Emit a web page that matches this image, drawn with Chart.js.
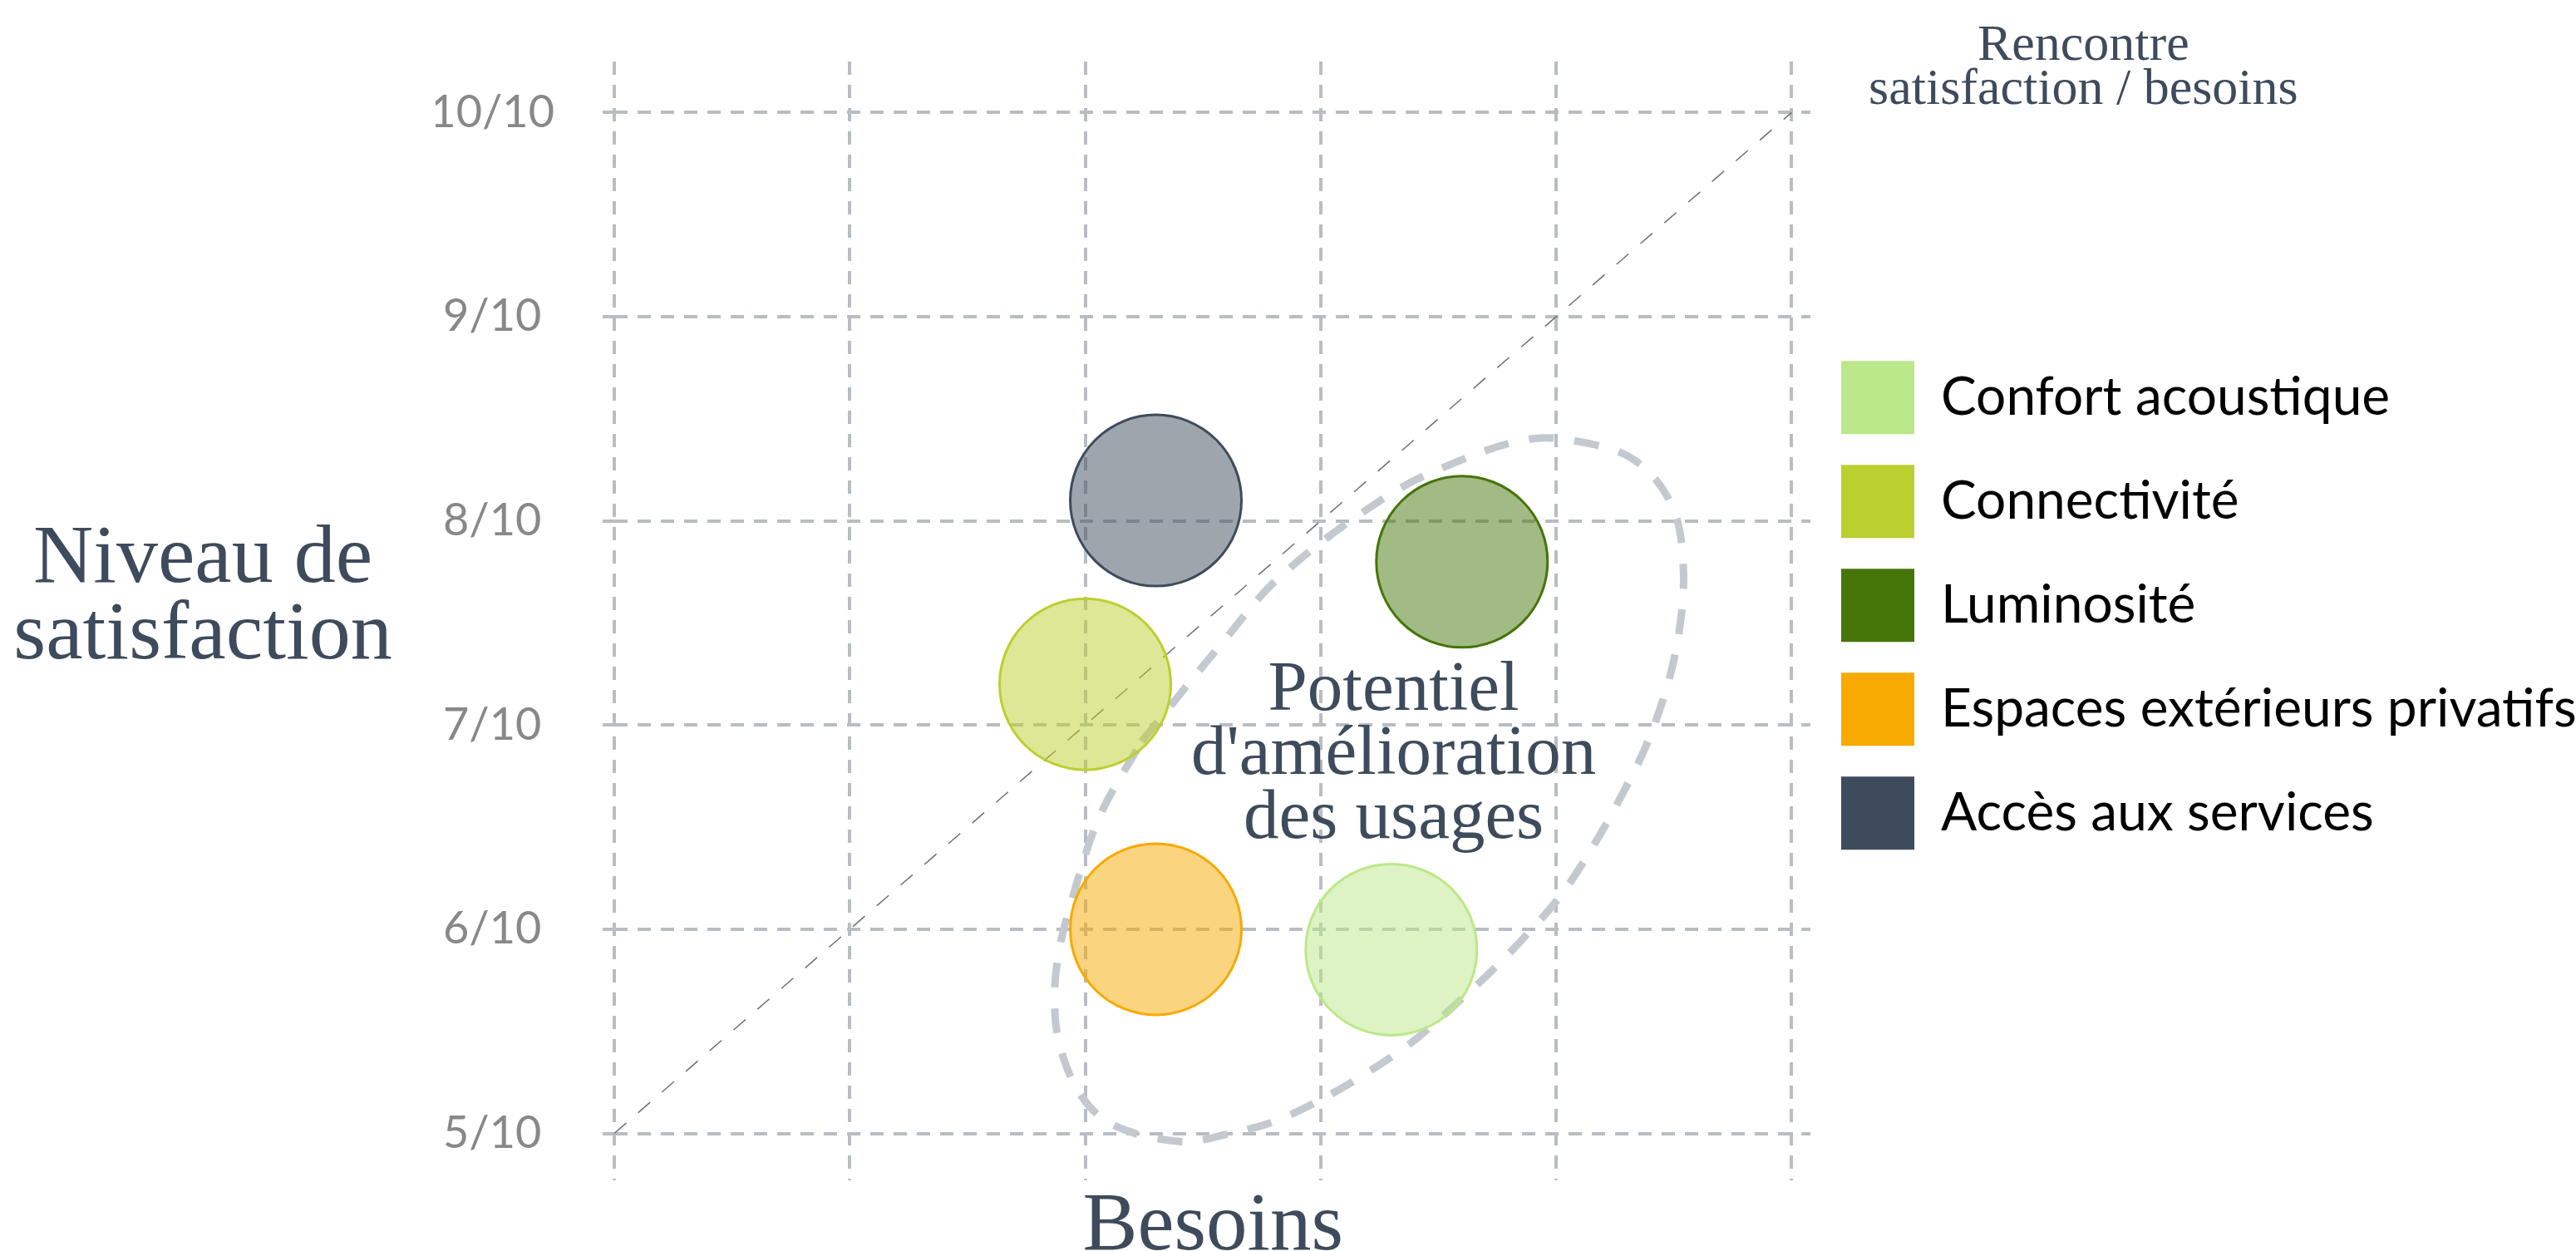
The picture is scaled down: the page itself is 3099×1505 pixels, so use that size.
<!DOCTYPE html>
<html>
<head>
<meta charset="utf-8">
<script src="https://cdn.jsdelivr.net/npm/chart.js@4"></script>
<style>
  html, body { margin: 0; padding: 0; background: #fff; }
  #wrap { width: 3099px; height: 1505px; }
</style>
</head>
<body>
<div id="wrap"><canvas id="chart-besoins"></canvas></div>
<script>
// données
const categories = ['Confort acoustique', 'Connectivité', 'Luminosité', 'Espaces extérieurs privatifs', 'Accès aux services'];
const besoins = [8.3, 7.0, 8.6, 7.3, 7.3];
const satisfaction = [5.9, 7.2, 7.8, 6.0, 8.1];
const colors = ['#bbe888', '#bbcf2e', '#457508', '#f7aa00', '#3d4b5c'];
const tickValues = [5, 6, 7, 8, 9, 10];
const yTickLabels = ['5/10', '6/10', '7/10', '8/10', '9/10', '10/10'];
const diagonal = [5, 10];
// contour de la zone "potentiel d'amélioration"
const zoneBesoins = [7.24, 7.58, 7.83, 8.28, 8.58, 8.88, 9.09, 9.33, 9.49, 9.54, 9.52, 9.45, 9.33, 9.06, 8.84, 8.60, 8.32, 7.87, 7.58, 7.40, 7.12, 6.98, 6.89, 6.87, 6.89, 6.94, 7.06, 7.24];
const zoneSatisfaction = [6.92, 7.40, 7.73, 8.12, 8.29, 8.40, 8.39, 8.30, 8.08, 7.78, 7.44, 7.11, 6.77, 6.23, 5.93, 5.66, 5.39, 5.09, 4.99, 4.96, 5.04, 5.19, 5.44, 5.68, 5.90, 6.13, 6.55, 6.92];

function alpha(hex, a) {
    const n = parseInt(hex.slice(1), 16);
    return 'rgba(' + (n >> 16) + ',' + ((n >> 8) & 255) + ',' + (n & 255) + ',' + a + ')';
}

const gridColor = '#b8bdc3';
const textColor = '#3d4b5c';
const serif = '"Liberation Serif", serif';
const plotRight = 2178;

const bubbleSets = categories.map((c, i) => ({
    type: 'bubble',
    label: c,
    data: [{x: besoins[i], y: satisfaction[i]}],
    backgroundColor: alpha(colors[i], 0.5),
    borderColor: colors[i],
    borderWidth: 3,
    radius: 103,
    order: 1
}));

const data = {
    datasets: bubbleSets.concat([{
        type: 'line',
        label: 'zone',
        data: zoneBesoins.map((v, i) => ({x: v, y: zoneSatisfaction[i]})),
        borderColor: '#c3c9cf',
        borderWidth: 9,
        borderDash: [30, 25],
        tension: 0.35,
        pointRadius: 0,
        fill: false,
        order: 3
    }, {
        type: 'line',
        label: 'rencontre',
        data: diagonal.map(v => ({x: v, y: v})),
        borderColor: '#6f6f6f',
        borderWidth: 1.5,
        borderDash: [19, 19],
        pointRadius: 0,
        fill: false,
        order: 2
    }])
};

const textes = {
    id: 'textes',
    afterDraw(chart) {
        const {ctx, chartArea, scales: {x, y}} = chart;
        ctx.save();
        ctx.fillStyle = textColor;
        ctx.textAlign = 'center';
        ctx.textBaseline = 'alphabetic';

        const midY = (chartArea.top + chartArea.bottom) / 2;
        ctx.font = '100px ' + serif;
        ctx.fillText('Niveau de', 244, midY - 47);
        ctx.fillText('satisfaction', 244, midY + 45);

        ctx.font = '99px ' + serif;
        ctx.fillText('Besoins', (chartArea.left + x.getPixelForValue(10)) / 2 + 12, chart.height - 2);

        const cx = x.getPixelForValue(10) + 351;
        const cy = y.getPixelForValue(10);
        ctx.font = '62px ' + serif;
        ctx.fillText('Rencontre', cx, cy - 63);
        ctx.fillText('satisfaction / besoins', cx, cy - 10);

        const px = x.getPixelForValue(8.31);
        const py = y.getPixelForValue(6.76);
        ctx.font = '85px ' + serif;
        ctx.fillText('Potentiel', px, py - 77);
        ctx.fillText("d'amélioration", px, py);
        ctx.fillText('des usages', px, py + 77);
        ctx.restore();
    }
};

Chart.defaults.font.family = 'Lato';

const config = {
    data: data,
    options: {
        responsive: true,
        maintainAspectRatio: false,
        animation: false,
        events: [],
        layout: {
            autoPadding: false,
            padding: {top: 74, bottom: 85, left: 524, right: 0}
        },
        scales: {
            x: {
                type: 'linear',
                min: 5,
                max: 10.08,
                afterBuildTicks: axis => { axis.ticks = tickValues.map(v => ({value: v})); },
                afterFit: axis => { axis.height = 0; axis.paddingLeft = 0; axis.paddingRight = 0; },
                ticks: {display: false},
                grid: {color: gridColor, lineWidth: 4, drawTicks: false},
                border: {display: false, dash: [16, 12]}
            },
            y: {
                type: 'linear',
                min: 4.77,
                max: 10.25,
                afterBuildTicks: axis => { axis.ticks = tickValues.map(v => ({value: v})); },
                afterFit: axis => { axis.width = 215; axis.paddingTop = 0; axis.paddingBottom = 0; },
                ticks: {
                    color: '#888888',
                    font: {size: 54},
                    padding: 58,
                    crossAlign: 'center',
                    callback: v => yTickLabels[tickValues.indexOf(v)]
                },
                grid: {color: gridColor, lineWidth: 4, tickLength: 14, tickColor: gridColor, tickWidth: 4},
                border: {display: false, dash: [16, 12]}
            }
        },
        plugins: {
            tooltip: {enabled: false},
            legend: {
                position: 'right',
                align: 'start',
                maxWidth: 1400,
                title: {display: true, text: '', font: {size: 1}, padding: {top: 161, bottom: 161}},
                labels: {
                    boxWidth: 88,
                    boxHeight: 88,
                    padding: 37,
                    color: '#000000',
                    font: {size: 64},
                    generateLabels: () => categories.map((c, i) => ({
                        text: c,
                        fillStyle: colors[i],
                        strokeStyle: colors[i],
                        lineWidth: 0,
                        hidden: false,
                        datasetIndex: i,
                        fontColor: '#000000'
                    }))
                }
            }
        }
    },
    plugins: [textes]
};

const myChart = new Chart(
    document.getElementById('chart-besoins'),
    config
);

// caler le bord droit de la zone de tracé (la légende déborde à droite comme l'original)
myChart.options.layout.padding.right += myChart.chartArea.right - plotRight;
myChart.update();
</script>
</body>
</html>
